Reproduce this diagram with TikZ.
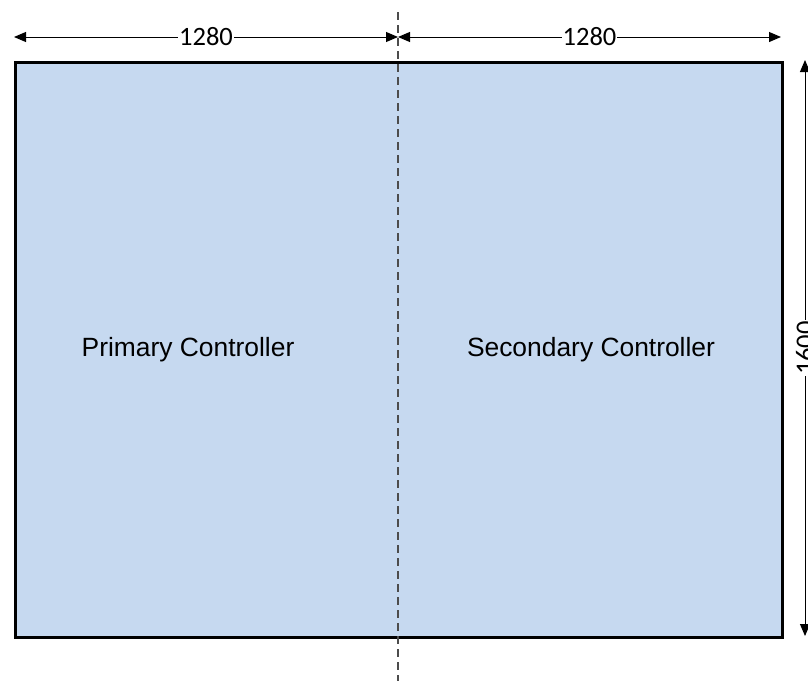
\documentclass[tikz,border=0pt]{standalone}
\usepackage{fontspec}
\setmainfont{Liberation Sans}
\newfontfamily\dimfont{Carlito}
\usetikzlibrary{arrows.meta}
\definecolor{boxfill}{RGB}{198,217,240}
\begin{document}
\begin{tikzpicture}[x=1pt,y=-1pt,
 dimarrow/.style={{Triangle[length=12pt,width=10pt]}-{Triangle[length=12pt,width=10pt]}, line width=1pt},
 dimlabel/.style={fill=white, inner sep=1pt, font=\dimfont\fontsize{26.5}{28}\selectfont},
 ctrl/.style={font=\fontsize{26.4}{30}\selectfont},
 divider/.style={dash pattern=on 8pt off 5pt, line width=1.4pt, color=black!70}]
\useasboundingbox (0,0) rectangle (808,681);
\node[draw, line width=2.6pt, fill=boxfill, minimum width=767pt, minimum height=575pt, inner sep=0pt, anchor=north west] (box) at (14,61) {};
\coordinate (tl) at (14,37);
\coordinate (mid) at (398,37);
\coordinate (tr) at (781,37);
\draw[dimarrow] (tl) -- node[dimlabel] (w1) {1280} (mid);
\draw[dimarrow] (mid) -- node[dimlabel] (w2) {1280} (tr);
\coordinate (vt) at (805,60);
\coordinate (vb) at (805,636);
\draw[dimarrow] (vt) -- node[dimlabel, rotate=90] (h) {1600} (vb);
\coordinate (dt) at (398,12);
\coordinate (db) at (398,681);
\draw[divider] (dt) -- (db);
\node[ctrl] (primary) at (188,350) {Primary Controller};
\node[ctrl] (secondary) at (591,350) {Secondary Controller};
\end{tikzpicture}
\end{document}
